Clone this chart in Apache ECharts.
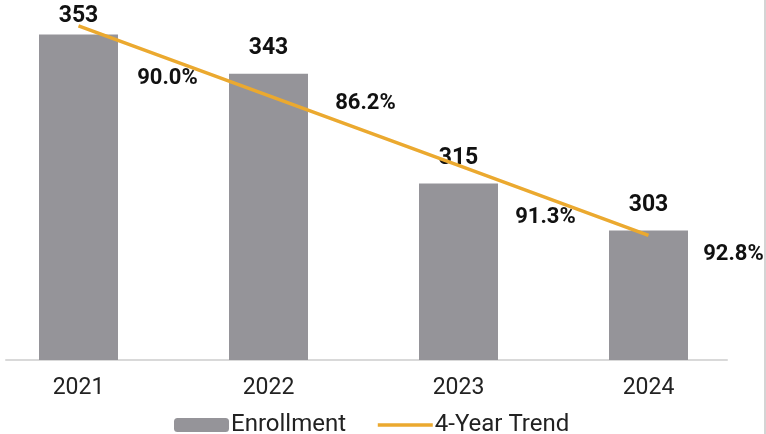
<!DOCTYPE html>
<html>
<head>
<meta charset="utf-8">
<script src="https://cdn.jsdelivr.net/npm/echarts@6/dist/echarts.min.js"></script>
<style>
  html, body { margin: 0; padding: 0; background: #fff; }
  #chart { width: 766px; height: 434px; }
</style>
</head>
<body>
<div id="chart"></div>
<script>
  // chart data
  var years = ['2021', '2022', '2023', '2024']
  var enrollment = [353, 343, 315, 303]
  var trend = [355.2, 337.4, 319.6, 301.8]
  var retention = ['90.0%', '86.2%', '91.3%', '92.8%']

  // where each percentage sits relative to its bar top
  var pctOffsets = [[89, 44], [97, 30], [87, 34], [85, 24]]

  var chart = echarts.init(document.getElementById('chart'))
  var font = 'Roboto, "Noto Sans", sans-serif'

  chart.setOption({
    animation: false,
    textStyle: { fontFamily: font },
    grid: [
      { left: -16.5, right: 22.5, top: 7, bottom: 74, outerBoundsMode: 'none' },
      { left: 6, right: 39, top: 7, bottom: 74, outerBoundsMode: 'none' }
    ],
    xAxis: [{
      type: 'category',
      data: years,
      gridIndex: 0,
      axisLine: { show: false },
      axisTick: { show: false },
      splitLine: { show: false },
      axisLabel: { color: '#222', fontSize: 23, margin: 17, fontFamily: font }
    }, {
      type: 'value',
      gridIndex: 1,
      axisLine: { show: true, lineStyle: { color: '#d9d9d9', width: 2 } },
      axisTick: { show: false },
      axisLabel: { show: false },
      splitLine: { show: false }
    }],
    yAxis: [{
      type: 'value',
      min: 270,
      max: 360,
      gridIndex: 0,
      show: false
    }, {
      type: 'value',
      gridIndex: 1,
      show: false
    }],
    legend: {
      data: [
        'Enrollment',
        { name: '4-Year Trend', itemStyle: { opacity: 0 }, lineStyle: { width: 3.5 } }
      ],
      left: 169,
      top: 408,
      itemWidth: 55,
      itemHeight: 14,
      itemGap: 30,
      textStyle: { color: '#222', fontSize: 24, fontFamily: font, padding: [0, 0, 0, -3] }
    },
    graphic: [{
      type: 'rect',
      shape: { x: 764, y: 0, width: 2, height: 434 },
      style: { fill: '#d4d4d4' }
    }],
    series: [{
      name: 'Enrollment',
      type: 'bar',
      data: enrollment.map(function (v, i) {
        return i === 0 ? { value: v, label: { distance: 7 } } : v
      }),
      barWidth: 79,
      itemStyle: { color: '#959499' },
      label: {
        show: true,
        position: 'top',
        distance: 14,
        color: '#111',
        fontSize: 23,
        fontWeight: 'bold',
        fontFamily: font
      },
      z: 2
    }, {
      name: '4-Year Trend',
      type: 'line',
      data: trend,
      symbol: 'none',
      lineStyle: { color: '#EBA92F', width: 3.5 },
      itemStyle: { color: '#EBA92F' },
      z: 4
    }, {
      name: 'Retention',
      type: 'scatter',
      data: enrollment.map(function (v, i) {
        return { value: v, label: { offset: pctOffsets[i] } }
      }),
      symbolSize: 0,
      silent: true,
      itemStyle: { opacity: 1 },
      label: {
        show: true,
        position: 'inside',
        color: '#111',
        opacity: 1,
        textBorderWidth: 0,
        fontSize: 22,
        fontWeight: 'bold',
        fontFamily: font,
        formatter: function (p) { return retention[p.dataIndex] }
      },
      z: 5
    }]
  })
</script>
</body>
</html>
